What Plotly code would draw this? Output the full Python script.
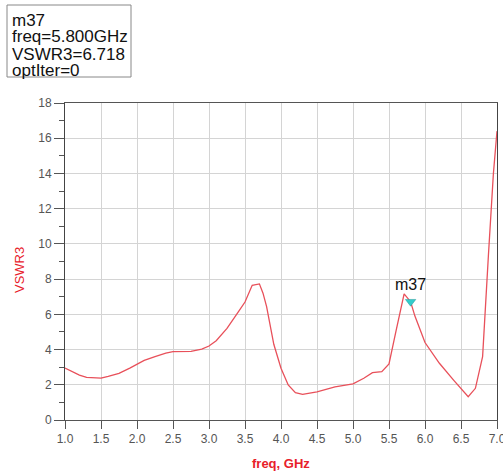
import plotly.graph_objects as go

freq = [1.0, 1.1, 1.2, 1.3, 1.4, 1.5, 1.6, 1.75, 1.9, 2.0, 2.1, 2.25, 2.4, 2.5, 2.65, 2.75, 2.9, 3.0,
        3.1, 3.25, 3.4, 3.5, 3.6, 3.7, 3.75, 3.8, 3.9, 4.0, 4.1, 4.2, 4.3, 4.5, 4.75, 5.0, 5.15,
        5.27, 5.4, 5.5, 5.6, 5.71, 5.8, 5.86, 6.0, 6.2, 6.4, 6.6, 6.7, 6.8, 6.88, 6.95, 7.0]
vswr = [2.95, 2.75, 2.55, 2.42, 2.38, 2.38, 2.48, 2.65, 2.95, 3.18, 3.38, 3.6, 3.8, 3.88, 3.88, 3.9, 4.02, 4.2,
        4.5, 5.2, 6.1, 6.7, 7.65, 7.73, 7.2, 6.44, 4.3, 2.94, 1.99, 1.55, 1.45, 1.6, 1.88, 2.05, 2.37,
        2.69, 2.74, 3.18, 5.1, 7.16, 6.718, 5.9, 4.4, 3.22, 2.25, 1.32, 1.8, 3.6, 9.3, 14.0, 16.4]

marker_name = "m37"
marker_freq = 5.8
marker_val = 6.718
info_lines = ["m37", "freq=5.800GHz", "VSWR3=6.718", "optIter=0"]

x_ticks = [1.0, 1.5, 2.0, 2.5, 3.0, 3.5, 4.0, 4.5, 5.0, 5.5, 6.0, 6.5, 7.0]
y_ticks = [0, 2, 4, 6, 8, 10, 12, 14, 16, 18]

FONT = "Liberation Sans, Arial, sans-serif"
L, R, T, B = 65, 6, 103, 54
W, H = 503, 474
PW, PH = W - L - R, H - T - B

def px_x(p):
    return (p - L) / PW

def px_y(p):
    return (H - B - p) / PH

fig = go.Figure()
fig.add_trace(go.Scatter(x=freq, y=vswr, mode="lines",
                         line=dict(color="#e8505a", width=1.3), showlegend=False,
                         hoverinfo="skip"))
fig.add_trace(go.Scatter(x=[marker_freq], y=[marker_val], mode="markers",
                         marker=dict(symbol="triangle-down", size=9, color="#33cccc",
                                     line=dict(color="#229999", width=0.5)),
                         showlegend=False, hoverinfo="skip"))

annotations = [
    dict(x=marker_freq, y=7.67, xref="x", yref="y", text=marker_name, showarrow=False,
         font=dict(family=FONT, size=16, color="#111"), xanchor="center", yanchor="middle"),
    dict(x=px_x(19), y=px_y(270), xref="paper", yref="paper", text="VSWR3", showarrow=False,
         textangle=-90, font=dict(family=FONT, size=13, color="#e8202a"),
         xanchor="center", yanchor="middle"),
    dict(x=0.5, y=px_y(463), xref="paper", yref="paper", text="<b>freq, GHz</b>", showarrow=False,
         font=dict(family=FONT, size=13, color="#e8202a"), xanchor="center", yanchor="middle"),
]
line_centers = [20, 37, 54, 70]
for txt, cy in zip(info_lines, line_centers):
    annotations.append(dict(x=px_x(10), y=px_y(cy), xref="paper", yref="paper", text=txt,
                            showarrow=False, font=dict(family=FONT, size=17, color="#111"),
                            xanchor="left", yanchor="middle"))

fig.update_layout(
    width=W, height=H,
    margin=dict(l=L, r=R, t=T, b=B, autoexpand=False),
    paper_bgcolor="white", plot_bgcolor="white",
    annotations=annotations,
    shapes=[dict(type="rect", xref="paper", yref="paper",
                 x0=px_x(7), x1=px_x(131), y0=px_y(77), y1=px_y(5),
                 line=dict(color="#888", width=1), fillcolor="rgba(0,0,0,0)")],
    xaxis=dict(range=[1.0, 7.0], tickvals=x_ticks, ticktext=[f"{v:.1f}" for v in x_ticks],
               showgrid=True, gridcolor="#d4d4d4", gridwidth=1,
               ticks="outside", ticklen=8, tickcolor="#555",
               showline=True, linecolor="#555", mirror=True, zeroline=False,
               ticklabeloverflow="allow", automargin=False,
               tickfont=dict(family=FONT, size=12, color="#555")),
    yaxis=dict(range=[0, 18], tickvals=y_ticks,
               showgrid=True, gridcolor="#d4d4d4", gridwidth=1,
               ticks="outside", ticklen=10, tickcolor="#555",
               minor=dict(dtick=1, tick0=0, ticks="outside", ticklen=5, tickcolor="#555", showgrid=False),
               showline=True, linecolor="#444", mirror=True, zeroline=False, automargin=False,
               tickfont=dict(family=FONT, size=12, color="#555")),
)

fig.write_html("out.html", config={"displayModeBar": False},
               post_script="document.body.style.margin='0';document.body.style.overflow='hidden';")
